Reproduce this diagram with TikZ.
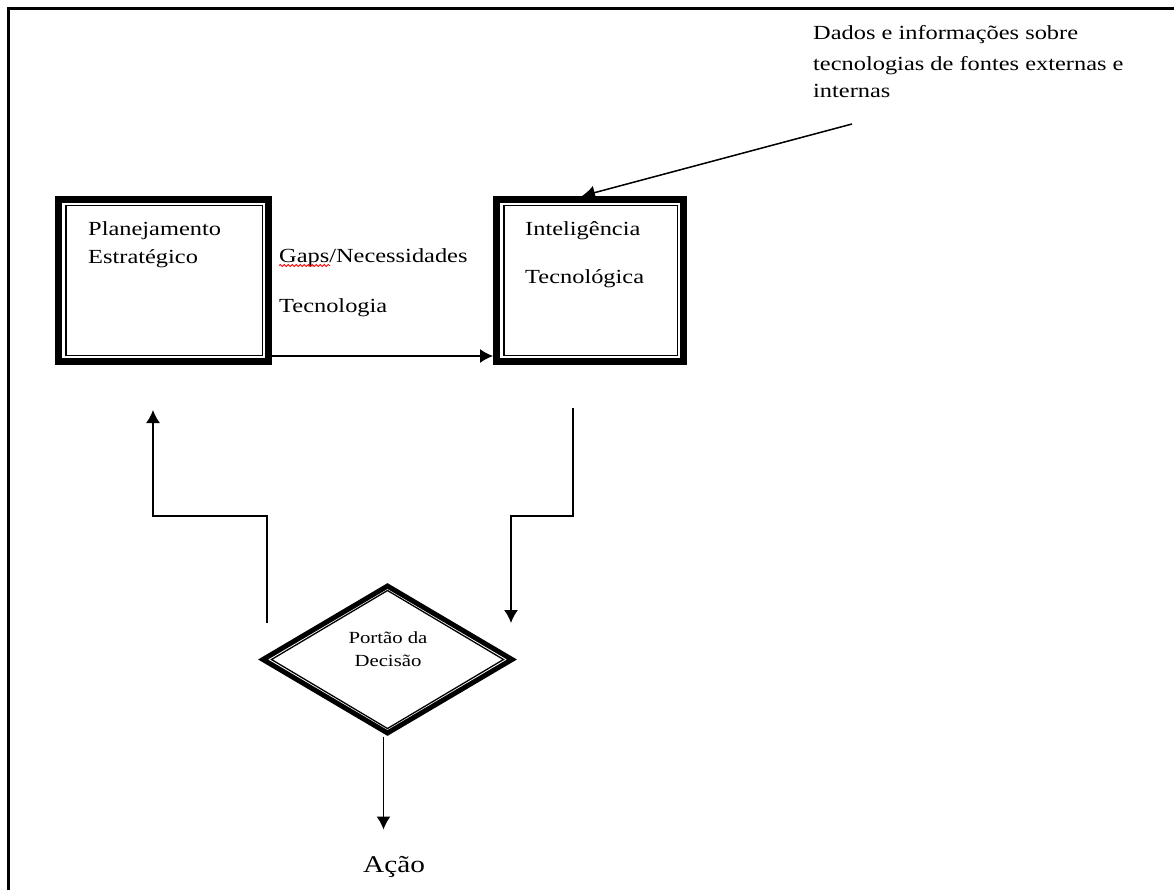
\documentclass[tikz,border=0pt]{standalone}
\usepackage{fontspec}
\setmainfont{Liberation Serif}[FakeStretch=1.22]
\usetikzlibrary{arrows.meta,shapes.geometric,decorations.pathmorphing}
\begin{document}
\begin{tikzpicture}[x=1pt,y=-1pt,
  framebox/.style={draw,line width=7pt,minimum height=162pt,inner sep=0pt},
  innerline/.style={line width=1.3pt},
  gate/.style={diamond,draw,line width=5pt,minimum width=251pt,minimum height=149pt,inner sep=0pt},
  conn/.style={line width=1.5pt,-{Latex[length=13pt,width=14pt]}},
  txt/.style={inner sep=0pt,font=\fontsize{20}{24}\selectfont,anchor=base west},
  smalltxt/.style={inner sep=0pt,font=\fontsize{17}{20}\selectfont,anchor=base},
  bigtxt/.style={inner sep=0pt,font=\fontsize{24}{28}\selectfont,anchor=base}]
\useasboundingbox (0,0) rectangle (1174,889);

% page frame (top and left edges)
\draw[line width=3pt] (1190,8.7) -- (8.7,8.7) -- (8.7,900);

% double-bordered boxes
\node[framebox,minimum width=210pt] (plan) at (163.5,280.5) {};
\node[framebox,minimum width=187pt] (intel) at (590,280.5) {};
\draw[innerline] ([shift={(11pt,-9.5pt)}]plan.north west) rectangle ([shift={(-9.5pt,9.5pt)}]plan.south east);
\draw[innerline] ([shift={(11pt,-9.5pt)}]intel.north west) rectangle ([shift={(-9.5pt,9.5pt)}]intel.south east);

\node[txt] (planA) at (88,235) {Planejamento};
\node[txt] (planB) at (88,263) {Estratégico};
\node[txt] (intA) at (525,235) {Inteligência};
\node[txt] (intB) at (525,283) {Tecnológica};

% label of the link between the boxes
\node[txt] (gapA) at (279,262) {Gaps/Necessidades};
\node[txt] (gapB) at (279,312) {Tecnologia};
\draw[red,line width=0.8pt,decorate,decoration={snake,amplitude=1pt,segment length=4pt}]
  (gapA.base west) ++(0,3.5) -- ++(51,0);

% external source text
\node[txt] (srcA) at (813,39) {Dados e informações sobre};
\node[txt] (srcB) at (813,70) {tecnologias de fontes externas e};
\node[txt] (srcC) at (813,97) {internas};

% decision gate with its inner outline
\node[gate] (gate) at (387.5,659.5) {};
\draw[innerline] ([xshift=-116pt]gate.center) -- ([yshift=69pt]gate.center)
  -- ([xshift=116pt]gate.center) -- ([yshift=-69pt]gate.center) -- cycle;
\node[smalltxt] (gateA) at (388,643) {Portão da};
\node[smalltxt] (gateB) at (388,666) {Decisão};

\node[bigtxt] (acao) at (394,872) {Ação};

% connectors
\coordinate (srcEnd) at (852,124);
\draw[conn] (srcEnd) -- ([xshift=89pt]intel.north west);
\draw[conn] ([yshift=9pt]plan.south east) coordinate (h0) -- (h0 -| intel.west);
\coordinate (fbL) at (267,623);
\coordinate (fbLtip) at (153,410);
\draw[conn] (fbL) -- ++(0,-107) -| (fbLtip);
\coordinate (fbR) at (573,408);
\coordinate (fbRtip) at (511,623);
\draw[conn] (fbR) -- ++(0,108) -| (fbRtip);
\draw[conn] ([xshift=-4pt]gate.south) -- ++(0,93);
\end{tikzpicture}
\end{document}
